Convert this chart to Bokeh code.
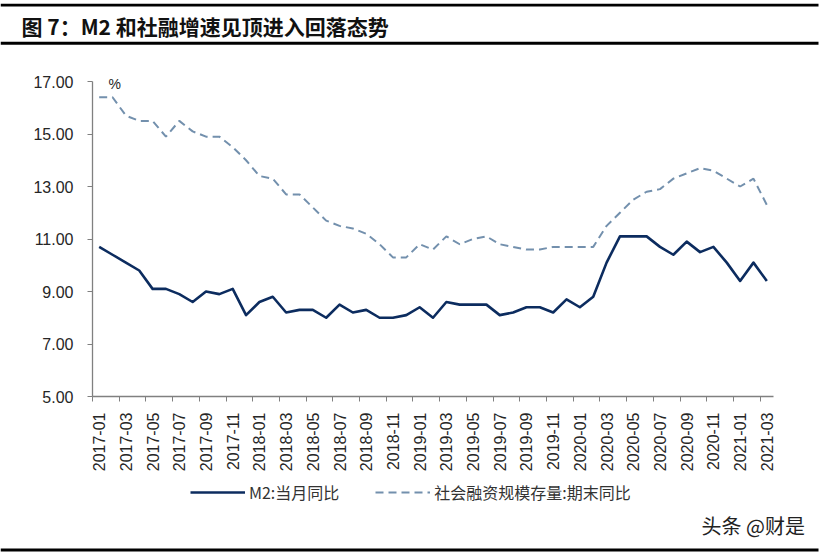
import math
from bokeh.plotting import figure
from bokeh.models import (Range1d, FixedTicker, NumeralTickFormatter, Label,
                          BoxAnnotation, Legend, LegendItem, ColumnDataSource)
from bokeh.embed import file_html
from bokeh.resources import INLINE

# ---------------- data ----------------
months = [f"{y}-{m:02d}" for y in range(2017, 2022) for m in range(1, 13)][:51]

m2_yoy = [10.7, 10.4, 10.1, 9.8, 9.1, 9.1, 8.9, 8.6, 9.0, 8.9, 9.1, 8.1,
          8.6, 8.8, 8.2, 8.3, 8.3, 8.0, 8.5, 8.2, 8.3, 8.0, 8.0, 8.1,
          8.4, 8.0, 8.6, 8.5, 8.5, 8.5, 8.1, 8.2, 8.4, 8.4, 8.2, 8.7,
          8.4, 8.8, 10.1, 11.1, 11.1, 11.1, 10.7, 10.4, 10.9, 10.5, 10.7, 10.1,
          9.4, 10.1, 9.4]

tsf_yoy = [16.4, 16.4, 15.7, 15.5, 15.5, 14.9, 15.5, 15.1, 14.9, 14.9, 14.5, 14.0,
           13.4, 13.3, 12.7, 12.7, 12.2, 11.7, 11.5, 11.4, 11.2, 10.8, 10.3, 10.3,
           10.8, 10.6, 11.1, 10.8, 11.0, 11.1, 10.8, 10.7, 10.6, 10.6, 10.7, 10.7,
           10.7, 10.7, 11.5, 12.0, 12.5, 12.8, 12.9, 13.3, 13.5, 13.7, 13.6, 13.3,
           13.0, 13.3, 12.3]

y_ticks = [5, 7, 9, 11, 13, 15, 17]
series_names = ["M2:当月同比", "社会融资规模存量:期末同比"]
title_text = "图 7：M2 和社融增速见顶进入回落态势"
unit_text = "%"
watermark_text = "头条 @财是"

M2_COLOR = "#0C2C5F"
TSF_COLOR = "#7390AD"
AX = "#808080"
TXT = "#262626"
CJK = "Noto Sans CJK SC"

W = 824
HEAD_H, CHART_H, FOOT_H = 52, 422, 80
RULE_RIGHT = 818


def blank(height, y0):
    f = figure(width=W, height=height, output_backend="svg", toolbar_location=None,
               x_range=Range1d(0, W), y_range=Range1d(y0 + height, y0),
               x_axis_type=None, y_axis_type=None, min_border=0)
    f.outline_line_color = None
    f.xgrid.visible = False
    f.ygrid.visible = False
    return f


def rule(fig, y_top, y_bottom):
    fig.add_layout(BoxAnnotation(left=0, right=RULE_RIGHT, top=y_top, bottom=y_bottom,
                                 fill_color="black", fill_alpha=1.0, line_alpha=0))


# ---------------- header ----------------
head = blank(HEAD_H, 0)
rule(head, 3.2, 6.0)
rule(head, 41.3, 44.2)
head.add_layout(Label(x=21, y=25, text=title_text, text_font=CJK,
                      text_font_size="21px", text_font_style="bold",
                      text_baseline="middle", text_color="#111111"))

# ---------------- chart ----------------
n = len(months)
xs = list(range(n))
src = ColumnDataSource(dict(x=xs, m2=m2_yoy, tsf=tsf_yoy, month=months))

FL, FR = 92, 51
frame_top, frame_bottom = 68, 396          # page px
frame_h = frame_bottom - frame_top
px_per_unit = 315 / (max(y_ticks) - min(y_ticks))
y_end = min(y_ticks) + frame_h / px_per_unit

p = figure(width=W, height=CHART_H, output_backend="svg", toolbar_location=None,
           x_range=Range1d(-0.5, n - 0.5), y_range=Range1d(min(y_ticks), y_end),
           min_border_left=FL, min_border_right=FR,
           min_border_top=frame_top - HEAD_H,
           min_border_bottom=HEAD_H + CHART_H - frame_bottom)
p.outline_line_color = None
p.xgrid.visible = False
p.ygrid.visible = False

# x axis
major = [i for i in xs if i % 2 == 0]
minor = [i - 0.5 for i in major]
p.xaxis.ticker = FixedTicker(ticks=major, minor_ticks=minor)
p.xaxis.major_label_overrides = {i: months[i] for i in major}
p.xaxis.major_label_orientation = math.pi / 2
p.xaxis.major_tick_in = 0
p.xaxis.major_tick_out = 0
p.xaxis.minor_tick_in = 0
p.xaxis.minor_tick_out = 5
p.xaxis.minor_tick_line_color = AX
p.xaxis.axis_line_color = AX
p.xaxis.axis_line_width = 1.3
p.xaxis.major_label_standoff = 11
p.xaxis.major_label_text_font = "Liberation Sans"
p.xaxis.major_label_text_font_size = "16px"
p.xaxis.major_label_text_color = TXT

# y axis
p.yaxis.ticker = FixedTicker(ticks=y_ticks)
p.yaxis.bounds = (min(y_ticks), max(y_ticks))
p.yaxis.formatter = NumeralTickFormatter(format="0.00")
p.yaxis.major_tick_in = 0
p.yaxis.major_tick_out = 5
p.yaxis.minor_tick_line_color = None
p.yaxis.major_tick_line_color = AX
p.yaxis.axis_line_color = AX
p.yaxis.axis_line_width = 1.3
p.yaxis.major_label_standoff = 14
p.yaxis.major_label_text_font = "Liberation Sans"
p.yaxis.major_label_text_font_size = "16px"
p.yaxis.major_label_text_color = TXT

p.line("x", "tsf", source=src, line_color=TSF_COLOR, line_width=2.0, line_dash="8 5")
p.line("x", "m2", source=src, line_color=M2_COLOR, line_width=2.6, line_join="round")

p.add_layout(Label(x=0.7, y=max(y_ticks) - 2 / px_per_unit, text=unit_text,
                   text_font="Liberation Sans", text_font_size="14px",
                   text_baseline="middle", text_color=TXT))

# ---------------- footer ----------------
foot_y0 = HEAD_H + CHART_H
foot = blank(FOOT_H, foot_y0)
# legend sample renderers (points lie outside the visible range)
d_m2 = foot.line(x=[-20, -10], y=[foot_y0 - 20, foot_y0 - 20],
                 line_color=M2_COLOR, line_width=2.6)
d_tsf = foot.line(x=[-20, -10], y=[foot_y0 - 20, foot_y0 - 20],
                  line_color=TSF_COLOR, line_width=2.0, line_dash="8 5")
legend = Legend(items=[LegendItem(label=series_names[0], renderers=[d_m2]),
                       LegendItem(label=series_names[1], renderers=[d_tsf])],
                orientation="horizontal", location=(190, 50),
                glyph_width=55, glyph_height=22, label_standoff=4, spacing=36,
                padding=0, margin=0, border_line_alpha=0, background_fill_alpha=0,
                label_text_font=CJK, label_text_font_size="16px",
                label_text_color="#333333")
foot.add_layout(legend)
foot.add_layout(Label(x=701, y=525, text=watermark_text, text_font=CJK,
                      text_font_size="20px", text_baseline="middle", text_color="#222222"))
rule(foot, 548.0, 551.0)

open("out.html", "w").write(file_html([head, p, foot], INLINE))
